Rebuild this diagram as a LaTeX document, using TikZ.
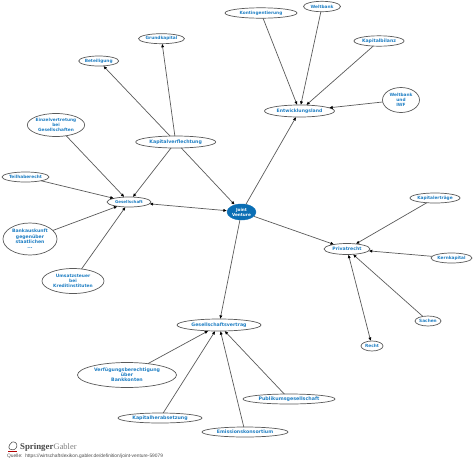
\documentclass[tikz,border=0pt]{standalone}
\usepackage{fontspec}
\setmainfont{DejaVu Sans}
\newfontfamily\logofont{Liberation Serif}
\newfontfamily\quellefont{Liberation Sans}
\usetikzlibrary{shapes.geometric,arrows.meta}
\definecolor{lbl}{HTML}{1F7FC4}
\definecolor{edgecol}{HTML}{5A5A5A}
\definecolor{jvblue}{HTML}{0A6EB4}
\tikzset{
 term/.style n args={2}{ellipse,draw=edgecol,line width=.7pt,fill=white,inner sep=0pt,outer sep=0pt,
   minimum width=#1*2pt,minimum height=#2*2pt,text=lbl,align=center,font=\bfseries\fontsize{4.3}{5.1}\selectfont},
 big/.style={font=\bfseries\fontsize{4.7}{5.1}\selectfont},
 mid/.style={font=\bfseries\fontsize{4.6}{5.3}\selectfont},
 lnk/.style={draw=edgecol,line width=.7pt,-{Latex[length=3.6pt,width=3.2pt,color=black]}},
 both/.style={draw=edgecol,line width=.7pt,{Latex[length=3.6pt,width=3.2pt,color=black]}-{Latex[length=3.6pt,width=3.2pt,color=black]}},
}
\begin{document}
\begin{tikzpicture}[x=1pt,y=-1pt]
\useasboundingbox (0,0) rectangle (474,464);
\node[term={36}{5.2},font=\bfseries\fontsize{4.3}{5}\selectfont] (kont) at (261,13) {Kontingentierung};
\node[term={18.5}{5.2}] (wb) at (322,6.5) {Weltbank};
\node[term={25}{5.2},mid] (kb) at (379,41) {Kapitalbilanz};
\node[term={18.5}{12.5}] (wbi) at (401,100) {Weltbank\\und\\IWF};
\node[term={35}{6},font=\bfseries\fontsize{4.6}{5.2}\selectfont] (ent) at (299.5,111) {Entwicklungsland};
\node[term={25}{5}] (kap) at (435,198) {Kapitalerträge};
\node[ellipse,fill=jvblue,draw=jvblue,inner sep=0pt,minimum width=29pt,minimum height=16pt,text=white,align=center,font=\bfseries\fontsize{4.2}{5}\selectfont] (jv) at (241.5,212) {Joint\\Venture};
\node[term={23}{5}] (gk) at (161.5,38.7) {Grundkapital};
\node[term={20}{5}] (bet) at (98.7,61) {Beteiligung};
\node[term={40}{6},big] (kv) at (175.7,142) {Kapitalverflechtung};
\node[term={28.5}{11.5}] (ev) at (56,125) {Einzelvertretung\\bei\\Gesellschaften};
\node[term={23.5}{5}] (th) at (25.5,177) {Teilhaberecht};
\node[term={22}{5},font=\bfseries\fontsize{4}{5}\selectfont] (ges) at (129,202) {Gesellschaft};
\node[term={27}{16},mid] (ba) at (30,239) {Bankauskunft\\gegenüber\\staatlichen\\...};
\node[term={31}{12.5},font=\bfseries\fontsize{4.4}{5.1}\selectfont] (us) at (73,281) {Umsatzsteuer\\bei\\Kreditinstituten};
\node[term={42}{6},big] (gv) at (219,325) {Gesellschaftsvertrag};
\node[term={49.5}{12.5},font=\bfseries\fontsize{4.7}{5.1}\selectfont] (vf) at (127,375) {Verfügungsberechtigung\\über\\Bankkonten};
\node[term={42}{5},big] (kh) at (160,418) {Kapitalherabsetzung};
\node[term={43}{5},big] (em) at (245,432) {Emissionskonsortium};
\node[term={46}{5},font=\bfseries\fontsize{4.8}{5.1}\selectfont] (pub) at (289,399) {Publikumsgesellschaft};
\node[term={23}{5.5},font=\bfseries\fontsize{4.6}{5.1}\selectfont] (pr) at (347,249) {Privatrecht};
\node[term={20.5}{5}] (kk) at (451.5,258) {Kernkapital};
\node[term={13}{5}] (sa) at (428,321) {Sachen};
\node[term={11}{5}] (re) at (372,346) {Recht};
\draw[lnk] (kont) -- (ent);
\draw[lnk] (wb) -- (ent);
\draw[lnk] (kb) -- (ent);
\draw[lnk] (wbi) -- (ent);
\draw[lnk] (jv) -- (ent);
\draw[lnk] (kv) -- (gk);
\draw[lnk] (kv) -- (bet);
\draw[lnk] (kv) -- (ges);
\draw[lnk] (kv) -- (jv);
\draw[lnk] (ev) -- (ges);
\draw[lnk] (th) -- (ges);
\draw[lnk] (ba) -- (ges);
\draw[lnk] (us) -- (ges);
\draw[both] (ges) -- (jv);
\draw[lnk] (jv) -- (pr);
\draw[lnk] (jv) -- (gv);
\draw[lnk] (kap) -- (pr);
\draw[lnk] (kk) -- (pr);
\draw[lnk] (sa) -- (pr);
\draw[both] (pr) -- (re);
\draw[lnk] (vf) -- (gv);
\draw[lnk] (kh) -- (gv);
\draw[lnk] (em) -- (gv);
\draw[lnk] (pub) -- (gv);
% logo
\draw[black!65,line width=.6pt,rounded corners=1pt] (9,449) -- (9,445.5) -- (12.5,441.5) -- (16.5,443) -- (17,447) -- (14,450) -- cycle;
\draw[red!70!black,line width=.6pt] (8,451.5) -- (17,451.5);
\node[anchor=west,inner sep=0pt,font=\logofont\bfseries\fontsize{8.8}{10}\selectfont,text=black!72] (sp) at (20,447) {Springer};
\node[anchor=west,inner sep=0pt,font=\logofont\fontsize{8.4}{10}\selectfont,text=black!50] (gb) at (53.5,447) {Gabler};
\node[anchor=west,inner sep=0pt,font=\quellefont\fontsize{4.85}{6}\selectfont,text=black!70] (q) at (7,456) {Quelle:\ \ https://wirtschaftslexikon.gabler.de/definition/joint-venture-59079};
\end{tikzpicture}
\end{document}
